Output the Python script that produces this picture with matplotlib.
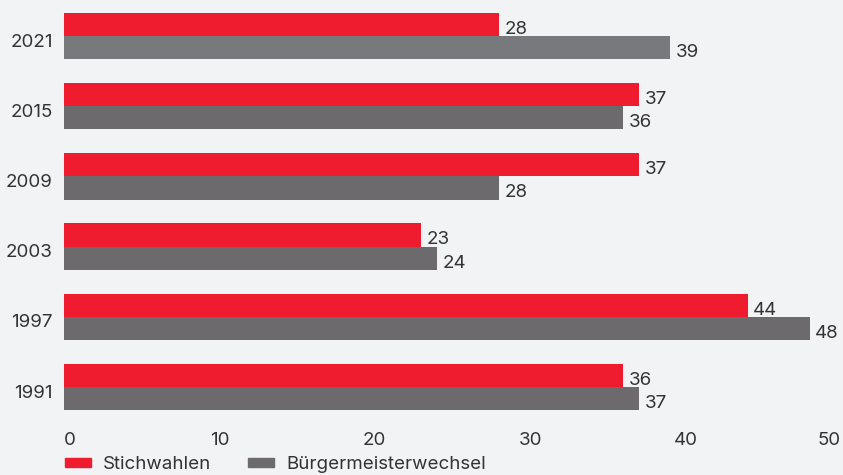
import matplotlib
matplotlib.use("Agg")
import matplotlib.pyplot as plt
from matplotlib.patches import Patch
import numpy as np

years = ["1991", "1997", "2003", "2009", "2015", "2021"]
stichwahlen = [36, 44, 23, 37, 37, 28]
wechsel = [37, 48, 24, 28, 36, 39]
xticks = [0, 10, 20, 30, 40, 50]

RED = "#ee1c2e"
GRAY = "#6d6a6d"
GRAY_2021 = "#78797c"
BG = "#f2f3f5"
TXT = "#333333"
FS = 13.5

plt.rcParams['font.family'] = ['Inter', 'DejaVu Sans']

W, H = 843, 475
fig = plt.figure(figsize=(W / 100, H / 100), dpi=100, facecolor=BG)
ax = fig.add_axes([64 / W, 1 - 410 / H, (841 - 64) / W, (410 - 13) / H])
ax.set_facecolor(BG)

y = np.arange(len(years))
h = 0.33
gray_colors = [GRAY_2021 if yr == "2021" else GRAY for yr in years]
ax.barh(y + h / 2, stichwahlen, height=h, color=RED)
ax.barh(y - h / 2, wechsel, height=h, color=gray_colors)

for yi, v in zip(y, stichwahlen):
    ax.text(v + 0.35, yi + h / 2 - 0.07, str(v), va="center", ha="left", fontsize=FS, color=TXT)
for yi, v in zip(y, wechsel):
    ax.text(v + 0.35, yi - h / 2 - 0.07, str(v), va="center", ha="left", fontsize=FS, color=TXT)

ax.set_xlim(0, 50)
ax.set_ylim(-h, len(years) - 1 + h)
ax.set_yticks(y - 0.06)
ax.set_yticklabels(years, fontsize=FS, color=TXT)
ax.set_xticks(xticks)
ax.set_xticklabels([str(t) for t in xticks], fontsize=FS, color=TXT)
labels = ax.get_xticklabels()
labels[0].set_horizontalalignment("left")
labels[-1].set_horizontalalignment("right")
ax.tick_params(axis="both", length=0)
ax.tick_params(axis="y", pad=8)
ax.tick_params(axis="x", pad=16)
for s in ax.spines.values():
    s.set_visible(False)

handles = [Patch(color=RED, label="Stichwahlen"), Patch(color=GRAY, label="Bürgermeisterwechsel")]
fig.legend(handles=handles, loc="lower left", bbox_to_anchor=(48 / W, -15 / H), ncol=2,
           frameon=False, fontsize=FS, handlelength=1.39, handleheight=0.43,
           handletextpad=0.65, columnspacing=1.95, labelcolor=TXT)

fig.savefig("out.png", dpi=100, facecolor=BG)
